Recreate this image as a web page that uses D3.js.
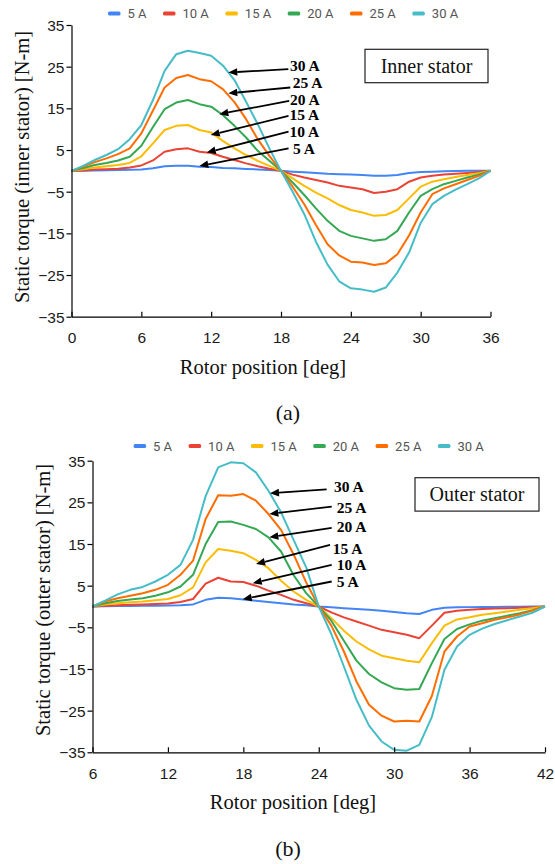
<!DOCTYPE html>
<html><head><meta charset="utf-8">
<script src="https://cdn.jsdelivr.net/npm/d3@7"></script>
<style>body{margin:0;background:#fff}</style>
</head><body>
<svg id="c" width="555" height="864" xmlns="http://www.w3.org/2000/svg"></svg>
<script>
// ---------- data ----------
const seriesNames = ["5 A", "10 A", "15 A", "20 A", "25 A", "30 A"];
const seriesColors = ["#4285F4", "#EA4335", "#FBBC04", "#34A853", "#FF6D01", "#46BDC6"];
const yTickValues = [35, 25, 15, 5, -5, -15, -25, -35];
const innerXTicks = [0, 6, 12, 18, 24, 30, 36];
const outerXTicks = [6, 12, 18, 24, 30, 36, 42];

// (a) inner stator: rotor position 0..36 deg
const innerPos = [0,1,2,3,4,5,6,7,8,9,10,11,12,13,14,15,16,17,18,19,20,21,22,23,24,25,26,27,28,29,30,31,32,33,34,35,36];
const inner5A  = [0,0.05,0.1,0.15,0.2,0.25,0.35,0.6,1.1,1.2,1.2,1.0,0.9,0.7,0.6,0.45,0.35,0.2,0,-0.2,-0.35,-0.5,-0.7,-0.8,-0.9,-1.0,-1.2,-1.2,-1.0,-0.5,-0.3,-0.2,-0.1,-0.05,0,0,0];
const inner10A = [0,0.1,0.3,0.4,0.5,0.8,1.3,2.5,4.6,5.2,5.4,4.6,4.3,3.4,2.6,1.8,1.1,0.5,0,-0.9,-1.6,-2.2,-2.8,-3.6,-4.0,-4.4,-5.3,-5.0,-4.4,-2.6,-1.6,-1.2,-0.9,-0.7,-0.5,-0.3,0];
const inner15A = [0,0.4,0.8,1.1,1.4,1.9,3.5,6.6,9.8,10.8,11.0,9.8,9.2,7.2,5.4,3.8,2.4,1.2,0,-1.8,-3.6,-5.2,-6.6,-8.2,-9.4,-10.0,-10.8,-10.6,-9.4,-6.6,-3.8,-2.6,-2.0,-1.5,-1.0,-0.6,0];
const inner20A = [0,0.7,1.4,1.9,2.5,3.4,6.0,10.5,14.8,16.4,17.0,16.0,15.4,13.4,10.8,8.0,4.8,2.4,0,-2.8,-5.8,-9.0,-12.0,-14.4,-15.6,-16.2,-16.8,-16.4,-14.4,-10.0,-6.0,-4.4,-3.2,-2.4,-1.6,-0.9,0];
const inner25A = [0,1.0,2.1,3.0,4.0,5.4,9.0,14.5,20.0,22.3,23.0,22.0,21.5,19.6,16.5,12.4,7.6,3.6,0,-3.8,-8.0,-13.0,-17.6,-20.3,-21.8,-22.0,-22.6,-22.2,-20.0,-15.5,-10.0,-5.6,-4.2,-3.2,-2.2,-1.2,0];
const inner30A = [0,1.2,2.6,3.8,5.2,7.6,11.0,17.0,24.0,28.0,28.8,28.3,27.6,25.3,21.8,16.6,11.2,5.4,0,-5.0,-10.4,-17.0,-22.5,-26.5,-28.2,-28.5,-29.0,-28.0,-24.4,-19.6,-12.5,-8.0,-6.0,-4.5,-3.2,-1.8,0];

// (b) outer stator: rotor position 6..42 deg
const outerPos = [6,7,8,9,10,11,12,13,14,15,16,17,18,19,20,21,22,23,24,25,26,27,28,29,30,31,32,33,34,35,36,37,38,39,40,41,42];
const outer5A  = [0,0.05,0.1,0.12,0.15,0.2,0.25,0.3,0.5,1.6,2.1,2.0,1.7,1.4,1.1,0.8,0.5,0.3,0,-0.2,-0.4,-0.6,-0.8,-1.0,-1.3,-1.6,-1.8,-0.8,-0.3,-0.2,-0.15,-0.1,-0.1,-0.05,-0.05,0,0];
const outer10A = [0,0.2,0.3,0.4,0.5,0.6,0.7,1.1,1.8,5.5,6.9,6.0,5.9,5.0,3.8,2.8,1.6,0.8,0,-1.4,-2.6,-3.6,-4.6,-5.6,-6.2,-6.8,-7.6,-4.6,-1.5,-1.0,-0.8,-0.6,-0.5,-0.4,-0.3,-0.2,0];
const outer15A = [0,0.5,0.8,1.0,1.2,1.5,1.8,2.7,4.6,10.6,13.8,13.4,12.8,11.2,9.2,6.2,3.6,1.6,0,-2.8,-5.8,-8.4,-10.3,-11.8,-12.4,-13.0,-13.4,-8.8,-4.6,-3.1,-2.6,-2.0,-1.6,-1.2,-0.8,-0.4,0];
const outer20A = [0,0.8,1.3,1.7,2.0,2.6,3.4,4.8,7.6,15.0,20.3,20.4,19.6,18.6,16.6,13.2,7.5,3.2,0,-3.4,-8.2,-13.0,-16.2,-18.2,-19.6,-20.0,-19.8,-13.6,-7.8,-5.4,-4.3,-3.4,-2.8,-2.2,-1.6,-0.9,0];
const outer25A = [0,1.2,2.0,2.6,3.2,4.0,5.2,7.6,11.0,21.0,26.7,26.6,27.0,25.4,22.2,18.4,12.5,5.8,0,-4.6,-10.8,-18.0,-23.6,-26.2,-27.6,-27.4,-27.6,-21.5,-10.8,-7.2,-4.8,-4.0,-3.2,-2.6,-1.9,-1.0,0];
const outer30A = [0,1.4,2.9,4.0,4.7,6.0,7.6,10.0,16.0,26.5,33.4,34.6,34.4,32.2,27.8,22.6,16.0,9.4,0,-6.6,-14.4,-22.4,-28.6,-32.4,-34.4,-34.6,-33.2,-26.5,-15.2,-9.6,-6.8,-5.3,-4.2,-3.3,-2.4,-1.5,0];

// annotation arrows (data coordinates): label, label pos, tail, head
const innerNotes = [
  {t:"30 A", lx:18.77, ly:25.2, tx:18.63, ty:24.4, hx:13.47, hy:23.6},
  {t:"25 A", lx:19.0,  ly:21.1, tx:18.8,  ty:20.0, hx:13.47, hy:18.6},
  {t:"20 A", lx:18.77, ly:17.2, tx:18.7,  ty:16.8, hx:12.7,  hy:13.6},
  {t:"15 A", lx:18.73, ly:13.4, tx:18.65, ty:13.2, hx:11.96, hy:8.6},
  {t:"10 A", lx:18.73, ly:9.4,  tx:18.65, ty:9.4,  hx:11.62, hy:4.4},
  {t:"5 A",  lx:19.03, ly:5.4,  tx:18.65, ty:5.4,  hx:10.98, hy:1.15}
];
const outerNotes = [
  {t:"30 A", lx:25.21, ly:28.8, tx:24.63, ty:28.1, hx:20.12, hy:27.2},
  {t:"25 A", lx:25.43, ly:23.7, tx:25.03, ty:24.0, hx:20.07, hy:22.2},
  {t:"20 A", lx:25.43, ly:19.2, tx:25.03, ty:18.9, hx:20.07, hy:16.6},
  {t:"15 A", lx:25.11, ly:14.0, tx:24.9,  ty:14.8, hx:19.01, hy:10.2},
  {t:"10 A", lx:25.43, ly:10.0, tx:25.03, ty:10.0, hx:18.75, hy:5.6},
  {t:"5 A",  lx:25.43, ly:6.0,  tx:25.03, ty:6.0,  hx:17.95, hy:1.75}
];

// ---------- drawing ----------
const svg = d3.select("#c");
const serif = "'Liberation Serif','Times New Roman',serif";
const sans = "'Liberation Sans',Arial,sans-serif";

function panel(cfg) {
  const x = d3.scaleLinear().domain(cfg.xDomain).range([cfg.left, cfg.right]);
  const y = d3.scaleLinear().domain([-35, 35]).range([cfg.bottom, cfg.top]);
  const g = svg.append("g");

  // legend
  let lx = cfg.legendX;
  seriesNames.forEach((name, i) => {
    g.append("rect").attr("x", lx).attr("y", cfg.legendY - 2).attr("width", 12.5).attr("height", 4)
      .attr("rx", 1.5).attr("fill", seriesColors[i]);
    const t = g.append("text").attr("x", lx + 19.5).attr("y", cfg.legendY).attr("dy", "0.36em")
      .attr("font-family", "Roboto, Arial, sans-serif").attr("font-size", 13).attr("fill", "#555").text(name);
    lx += 19.5 + t.node().getComputedTextLength() + 16.5;
  });

  // lines
  const line = d3.line().x(d => x(d[0])).y(d => y(d[1]));
  cfg.series.forEach((vals, i) => {
    const pts = cfg.pos.map((p, k) => [p, vals[k]]);
    g.append("path").datum(pts).attr("d", line).attr("fill", "none")
      .attr("stroke", seriesColors[i]).attr("stroke-width", 2).attr("stroke-linejoin", "round");
  });

  // axes
  const ya = d3.axisLeft(y).tickValues(yTickValues).tickSize(5).tickSizeOuter(0).tickFormat(d3.format("d"));
  const yg = g.append("g").attr("transform", `translate(${cfg.left},0)`).call(ya);
  const xa = d3.axisBottom(x).tickValues(cfg.xTicks).tickSize(-5).tickSizeOuter(0).tickFormat(d3.format("d"));
  const xg = g.append("g").attr("transform", `translate(0,${cfg.bottom})`).call(xa);
  [yg, xg].forEach(a => {
    a.select(".domain").attr("stroke", "#000").attr("stroke-width", 1.2);
    a.selectAll(".tick line").attr("stroke", "#000").attr("stroke-width", 1.2);
    a.selectAll(".tick text").attr("font-family", sans).attr("font-size", 15.5).attr("fill", "#1a1a1a");
  });
  yg.selectAll(".tick text").attr("x", -7).attr("dy", "0.36em");
  xg.selectAll(".tick text").attr("y", 21).attr("dy", "0.36em");

  // axis titles
  g.append("text").attr("transform", `translate(${cfg.yLabelX},${cfg.yLabelY}) rotate(-90)`)
    .attr("text-anchor", "middle").attr("dy", "0.35em").attr("font-family", serif).attr("font-size", 20.5)
    .attr("fill", "#111").text(cfg.yTitle);
  g.append("text").attr("x", cfg.xLabelX).attr("y", cfg.bottom + 50).attr("text-anchor", "middle").attr("dy", "0.35em")
    .attr("font-family", serif).attr("font-size", 20.5).attr("fill", "#111").text("Rotor position [deg]");
  g.append("text").attr("x", 288).attr("y", cfg.bottom + 96).attr("text-anchor", "middle").attr("dy", "0.35em")
    .attr("font-family", serif).attr("font-size", 22).attr("fill", "#111").text(cfg.caption);

  // box label
  g.append("rect").attr("x", cfg.boxX).attr("y", cfg.boxY).attr("width", cfg.boxW).attr("height", 33.4)
    .attr("fill", "#fff").attr("stroke", "#222").attr("stroke-width", 1.2);
  g.append("text").attr("x", cfg.boxX + cfg.boxW / 2).attr("y", cfg.boxY + 16.7).attr("dy", "0.35em")
    .attr("text-anchor", "middle").attr("font-family", serif).attr("font-size", 20).attr("fill", "#111").text(cfg.boxText);

  // annotations
  cfg.notes.forEach(n => {
    const x1 = x(n.tx), y1 = y(n.ty), x2 = x(n.hx), y2 = y(n.hy);
    const ang = Math.atan2(y2 - y1, x2 - x1);
    const L = 9, W = 3.8;
    const bx = x2 - L * Math.cos(ang), by = y2 - L * Math.sin(ang);
    g.append("line").attr("x1", x1).attr("y1", y1).attr("x2", bx).attr("y2", by)
      .attr("stroke", "#000").attr("stroke-width", 1.8);
    const px = -Math.sin(ang) * W, py = Math.cos(ang) * W;
    g.append("path").attr("d", `M${x2},${y2}L${bx + px},${by + py}L${bx - px},${by - py}Z`).attr("fill", "#000");
    g.append("text").attr("x", x(n.lx)).attr("y", y(n.ly)).attr("dy", "0.35em")
      .attr("font-family", serif).attr("font-weight", "bold").attr("font-size", 15.5).attr("fill", "#000").text(n.t);
  });
}

panel({
  xDomain: [0, 36], left: 71.5, right: 490.5, top: 25, bottom: 316.7,
  pos: innerPos, series: [inner5A, inner10A, inner15A, inner20A, inner25A, inner30A],
  xTicks: innerXTicks, legendX: 108, legendY: 13.5,
  yTitle: "Static torque (inner stator) [N-m]", yLabelX: 21.7, yLabelY: 167,
  xLabelX: 263, caption: "(a)",
  boxX: 365, boxY: 49.3, boxW: 123, boxText: "Inner stator", notes: innerNotes
});
panel({
  xDomain: [6, 42], left: 92.5, right: 545, top: 460.7, bottom: 752.3,
  pos: outerPos, series: [outer5A, outer10A, outer15A, outer20A, outer25A, outer30A],
  xTicks: outerXTicks, legendX: 133.6, legendY: 446,
  yTitle: "Static torque (outer stator) [N-m]", yLabelX: 42.7, yLabelY: 600,
  xLabelX: 293, caption: "(b)",
  boxX: 415, boxY: 477.7, boxW: 124, boxText: "Outer stator", notes: outerNotes
});
</script>
</body></html>
